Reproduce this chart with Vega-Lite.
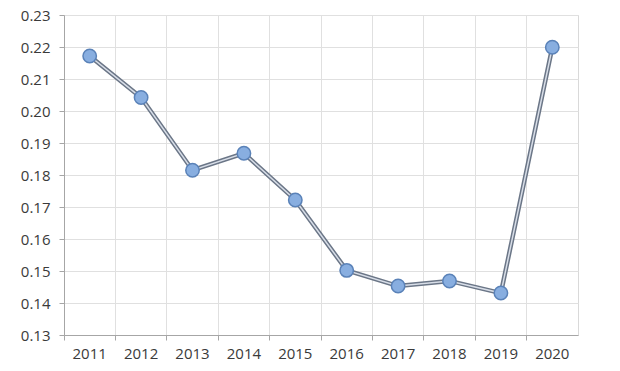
{
  "$schema": "https://vega.github.io/schema/vega-lite/v6.json",
  "width": 514,
  "height": 320,
  "autosize": "none",
  "padding": {"left": 64, "top": 15, "right": 42, "bottom": 36},
  "background": "white",
  "config": {
    "view": {"stroke": "#d9d9d9", "strokeWidth": 1},
    "axis": {"labelFont": "Open Sans", "labelFontSize": 15, "labelColor": "#3a3a3a", "gridColor": "#e0e0e0", "domainColor": "#a6a6a6", "tickColor": "#a6a6a6", "tickSize": 5}
  },
  "data": {"values": [
    {"year": "2011", "v": 0.2172},
    {"year": "2012", "v": 0.2042},
    {"year": "2013", "v": 0.1815},
    {"year": "2014", "v": 0.1868},
    {"year": "2015", "v": 0.1722},
    {"year": "2016", "v": 0.1502},
    {"year": "2017", "v": 0.1453},
    {"year": "2018", "v": 0.1469},
    {"year": "2019", "v": 0.1431},
    {"year": "2020", "v": 0.2199}
  ]},
  "encoding": {
    "x": {"field": "year", "type": "ordinal", "title": null,
      "scale": {"type": "band", "paddingInner": 0, "paddingOuter": 0},
      "axis": {"labelAngle": 0, "bandPosition": 0, "grid": true, "labelPadding": 6, "labelAlign": "center"}},
    "y": {"field": "v", "type": "quantitative", "title": null,
      "scale": {"domain": [0.13, 0.23], "nice": false, "zero": false},
      "axis": {"values": [0.13, 0.14, 0.15, 0.16, 0.17, 0.18, 0.19, 0.2, 0.21, 0.22, 0.23], "format": ".2f", "labelPadding": 9}}
  },
  "layer": [
    {"mark": {"type": "line", "color": "#6b7687", "strokeWidth": 4.5}},
    {"mark": {"type": "line", "color": "#d8dee8", "strokeWidth": 1.5}},
    {"mark": {"type": "point", "filled": true, "size": 180, "fill": "#88aee0", "stroke": "#5a82b8", "strokeWidth": 1.5, "opacity": 1}}
  ]
}
